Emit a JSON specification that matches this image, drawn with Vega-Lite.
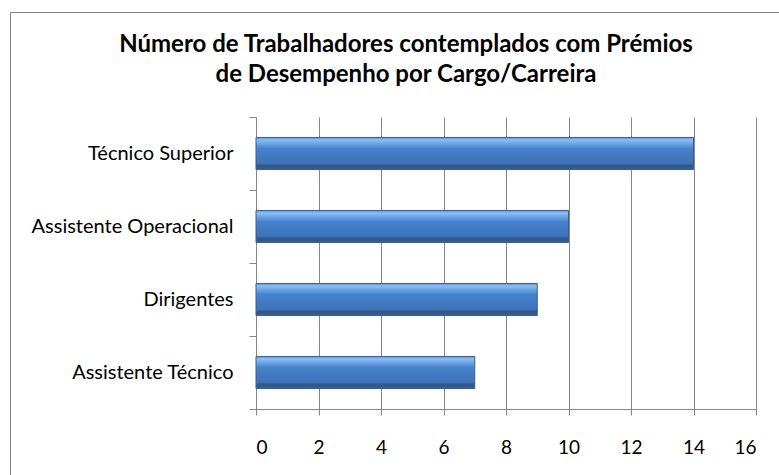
{
  "$schema": "https://vega.github.io/schema/vega-lite/v6.json",
  "width": 770,
  "height": 502,
  "autosize": {"type": "none"},
  "padding": {"left": 10, "top": 12, "right": 0, "bottom": -39},
  "background": "white",
  "title": {
    "text": ["Número de Trabalhadores contemplados com Prémios", "de Desempenho por Cargo/Carreira"],
    "font": "Lato",
    "fontSize": 24,
    "fontWeight": "bold",
    "color": "black",
    "anchor": "middle",
    "frame": "group",
    "offset": -85,
    "dx": 11,
    "lineHeight": 30
  },
  "data": {
    "values": [
      {"cargo": "Técnico Superior", "n": 14},
      {"cargo": "Assistente Operacional", "n": 10},
      {"cargo": "Dirigentes", "n": 9},
      {"cargo": "Assistente Técnico", "n": 7}
    ]
  },
  "mark": {
    "type": "bar",
    "height": {"band": 0.44},
    "stroke": "#3B5E8C",
    "strokeWidth": 1,
    "fill": {
      "gradient": "linear",
      "x1": 0, "y1": 0, "x2": 0, "y2": 1,
      "stops": [
        {"offset": 0, "color": "#5A8FD4"},
        {"offset": 0.08, "color": "#8CC0F5"},
        {"offset": 0.2, "color": "#6AA3E6"},
        {"offset": 0.35, "color": "#4681CB"},
        {"offset": 0.8, "color": "#3E74BA"},
        {"offset": 0.88, "color": "#2F5789"},
        {"offset": 1, "color": "#3F5D85"}
      ]
    }
  },
  "encoding": {
    "y": {
      "field": "cargo",
      "type": "nominal",
      "sort": null,
      "scale": {"range": [105, 397], "paddingInner": 0, "paddingOuter": 0},
      "axis": {
        "title": null,
        "offset": -246,
        "tickBand": "extent",
        "tickSize": 7,
        "labelPadding": 16,
        "labelLimit": 400,
        "domainColor": "#868686",
        "tickColor": "#868686",
        "labelFont": "Lato",
        "labelFontSize": 20,
        "labelColor": "black",
        "grid": false
      }
    },
    "x": {
      "field": "n",
      "type": "quantitative",
      "scale": {"domain": [0, 16], "range": [246, 746], "nice": false},
      "axis": {
        "title": null,
        "offset": -105,
        "values": [0, 2, 4, 6, 8, 10, 12, 14, 16],
        "grid": true,
        "gridColor": "#868686",
        "tickSize": 6,
        "labelPadding": 23,
        "domainColor": "#868686",
        "tickColor": "#868686",
        "labelFont": "Lato",
        "labelFontSize": 19,
        "labelColor": "black"
      }
    }
  },
  "config": {"view": {"stroke": "#868686", "strokeWidth": 1}}
}
